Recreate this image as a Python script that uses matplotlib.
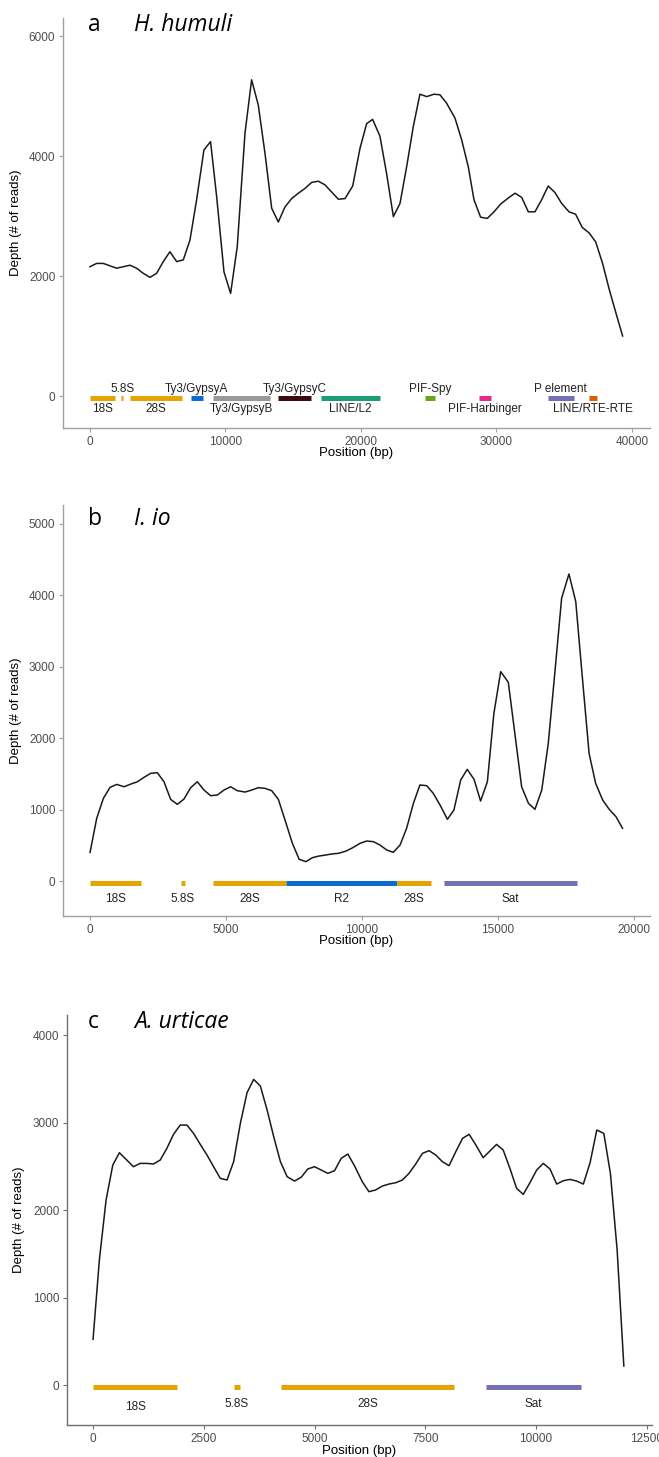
import matplotlib.pyplot as plt

# ---- coverage profiles ----
humuli_pos = [0, 490, 980, 1970, 2950, 3440, 3930, 4430, 4920, 5410, 5900, 6400, 6890, 7380, 7870,
              8410, 8900, 9350, 9890, 10380, 10870, 11440, 11930, 12420, 12920, 13410, 13900, 14390,
              14880, 15380, 15870, 16360, 16850, 17340, 17710, 18330, 18820, 19390, 19930, 20420,
              20860, 21400, 21890, 22390, 22880, 23370, 23860, 24350, 24850, 25390, 25830, 26320,
              26940, 27430, 27920, 28340, 28830, 29320, 29820, 30310, 30870, 31370, 31860, 32350,
              32840, 33330, 33820, 34320, 34810, 35350, 35840, 36330, 36830, 37320, 37830, 38330,
              38820, 39310]
humuli_depth = [2155, 2210, 2210, 2130, 2180, 2130, 2045, 1978, 2045, 2240, 2405, 2240, 2270, 2600,
                3270, 4100, 4240, 3320, 2070, 1710, 2490, 4380, 5270, 4850, 4040, 3130, 2900, 3150,
                3290, 3380, 3460, 3560, 3580, 3520, 3430, 3280, 3290, 3500, 4130, 4540, 4610, 4330,
                3710, 2990, 3210, 3820, 4490, 5030, 4990, 5030, 5020, 4880, 4630, 4270, 3820, 3270,
                2980, 2960, 3070, 3200, 3300, 3380, 3310, 3070, 3070, 3270, 3500, 3390, 3210, 3070,
                3030, 2810, 2720, 2570, 2210, 1770, 1380, 1000]

io_pos = [0, 245, 490, 735, 980, 1250, 1495, 1740, 1985, 2230, 2475, 2720, 2965, 3210, 3455, 3700,
          3945, 4190, 4435, 4680, 4925, 5170, 5415, 5700, 5945, 6190, 6430, 6680, 6925, 7170, 7440,
          7690, 7935, 8180, 8420, 8665, 8910, 9140, 9420, 9660, 9930, 10170, 10420, 10660, 10910,
          11150, 11400, 11640, 11890, 12130, 12380, 12620, 12870, 13140, 13380, 13630, 13870,
          14120, 14360, 14610, 14850, 15100, 15380, 15620, 15870, 16120, 16360, 16610, 16850,
          17100, 17340, 17610, 17860, 18100, 18350, 18590, 18850, 19090, 19340, 19580]
io_depth = [400, 877, 1157, 1311, 1353, 1320, 1357, 1390, 1452, 1508, 1517, 1390, 1143, 1074, 1148,
            1307, 1390, 1274, 1195, 1204, 1274, 1320, 1265, 1246, 1274, 1307, 1298, 1265, 1143, 854,
            528, 304, 271, 327, 350, 364, 380, 388, 420, 467, 528, 560, 551, 504, 434, 402, 504, 738,
            1088, 1345, 1335, 1228, 1064, 864, 994, 1415, 1564, 1424, 1120, 1390, 2348, 2932, 2783,
            2068, 1320, 1088, 1004, 1274, 1929, 2955, 3960, 4300, 3913, 2862, 1789, 1368, 1134,
            1004, 901, 738]

urt_pos = [0, 143, 294, 446, 595, 762, 912, 1063, 1215, 1364, 1516, 1667, 1817, 1968, 2120, 2269,
           2421, 2572, 2722, 2873, 3025, 3174, 3326, 3477, 3627, 3778, 3930, 4079, 4231, 4382, 4548,
           4699, 4848, 5000, 5152, 5301, 5452, 5604, 5753, 5905, 6079, 6228, 6380, 6532, 6681, 6833,
           6984, 7133, 7285, 7437, 7586, 7738, 7889, 8038, 8190, 8342, 8491, 8643, 8808, 8959, 9111,
           9260, 9412, 9563, 9713, 9864, 10016, 10165, 10317, 10468, 10618, 10769, 10920, 11070,
           11222, 11373, 11532, 11681, 11833, 11984]
urt_depth = [522, 1430, 2114, 2514, 2655, 2571, 2495, 2533, 2533, 2526, 2571, 2705, 2865, 2971, 2971,
             2876, 2750, 2629, 2495, 2362, 2343, 2552, 2990, 3341, 3493, 3417, 3143, 2838, 2552, 2381,
             2331, 2374, 2469, 2495, 2457, 2419, 2449, 2591, 2640, 2503, 2324, 2210, 2229, 2274, 2297,
             2312, 2343, 2419, 2526, 2648, 2678, 2629, 2552, 2507, 2667, 2819, 2865, 2743, 2598, 2674,
             2750, 2686, 2476, 2248, 2179, 2312, 2457, 2533, 2469, 2297, 2335, 2350, 2331, 2297, 2541,
             2914, 2876, 2419, 1543, 217]

# ---- annotated features (name, start, end) ----
humuli_feat = ['18S', '5.8S', '28S', 'Ty3/GypsyA', 'Ty3/GypsyB', 'Ty3/GypsyC', 'LINE/L2',
               'PIF-Spy', 'PIF-Harbinger', 'P element', 'LINE/RTE-RTE']
humuli_start = [0, 2300, 2940, 7420, 9060, 13850, 17040, 24710, 28740, 33790, 36830]
humuli_end = [1870, 2440, 6800, 8360, 13290, 16340, 21410, 25470, 29590, 35710, 37390]

io_feat = ['18S', '5.8S', '28S', 'R2', '28S', 'Sat']
io_start = [0, 3340, 4510, 7220, 11300, 13010]
io_end = [1877, 3480, 7220, 11300, 12530, 17900]

urt_feat = ['18S', '5.8S', '28S', 'Sat']
urt_start = [0, 3173, 4242, 8875]
urt_end = [1895, 3329, 8154, 11022]

# colours per feature
feat_colors = {'18S': '#E6A400', '5.8S': '#E6A400', '28S': '#E6A400',
               'Ty3/GypsyA': '#0D6CCF', 'Ty3/GypsyB': '#999999', 'Ty3/GypsyC': '#3B0A0E',
               'LINE/L2': '#1B9E77', 'PIF-Spy': '#66A61E', 'PIF-Harbinger': '#E7298A',
               'P element': '#7570B3', 'LINE/RTE-RTE': '#D95F02',
               'R2': '#0D6CCF', 'Sat': '#7570B3'}

W, H = 659, 1457
fig = plt.figure(figsize=(W / 100, H / 100), dpi=100)
plt.rcParams['font.family'] = ['Liberation Sans', 'DejaVu Sans']


def px_axes(left, top, right, bottom):
    return fig.add_axes([left / W, 1 - bottom / H, (right - left) / W, (bottom - top) / H])


def style(ax, spine_col, xticks, yticks, xlim, ylim):
    for s in ['top', 'right']:
        ax.spines[s].set_visible(False)
    for s in ['left', 'bottom']:
        ax.spines[s].set_color(spine_col)
        ax.spines[s].set_linewidth(1.0)
    ax.tick_params(colors=spine_col, length=3, width=0.8, pad=2.5, labelsize=8.5,
                   labelcolor='#4D4D4D')
    ax.set_xticks(xticks)
    ax.set_yticks(yticks)
    ax.set_xlim(xlim)
    ax.set_ylim(ylim)
    ax.set_xlabel('Position (bp)', fontsize=9.5)
    ax.set_ylabel('Depth (# of reads)', fontsize=9.5)
    ax.xaxis.label.set_va('center')


def draw_feats(ax, names, starts, ends, bar_y, lab_y, fs=8.5):
    for i, name in enumerate(names):
        ax.hlines(bar_y, starts[i], ends[i], colors=feat_colors[name], linewidth=3.6,
                  capstyle='butt')
        ax.text((starts[i] + ends[i]) / 2, lab_y[i], name, ha='center', va='center',
                fontsize=fs, color='#222222')


# ---- panel a ----
ax1 = px_axes(63, 18, 650, 428)
ax1.plot(humuli_pos, humuli_depth, color='#1a1a1a', linewidth=1.1)
style(ax1, '#A0A0A0', range(0, 40001, 10000), range(0, 6001, 2000), (-1990, 41330), (-533, 6300))
side_a = [-1, 1, -1, 1, -1, 1, -1, 1, -1, 1, -1]
draw_feats(ax1, humuli_feat, humuli_start, humuli_end, -38,
           [117 if s > 0 else -222 for s in side_a])
ax1.yaxis.set_label_coords(-0.07, 0.5)
ax1.xaxis.set_label_coords(0.5, -0.061)

# ---- panel b ----
ax2 = px_axes(63, 505, 650, 916)
ax2.plot(io_pos, io_depth, color='#1a1a1a', linewidth=1.1)
style(ax2, '#A0A0A0', range(0, 20001, 5000), range(0, 5001, 1000), (-994, 20590), (-490, 5266))
draw_feats(ax2, io_feat, io_start, io_end, -33, [-252] * len(io_feat))
ax2.yaxis.set_label_coords(-0.07, 0.5)
ax2.xaxis.set_label_coords(0.5, -0.061)

# ---- panel c ----
ax3 = px_axes(67, 1015, 652, 1425)
ax3.plot(urt_pos, urt_depth, color='#1a1a1a', linewidth=1.1)
style(ax3, '#707070', range(0, 12501, 2500), range(0, 4001, 1000), (-588, 12620), (-457, 4229))
draw_feats(ax3, urt_feat, urt_start, urt_end, -19, [-250, -215, -215, -215])
ax3.yaxis.set_label_coords(-0.072, 0.5)
ax3.xaxis.set_label_coords(0.5, -0.063)

# ---- panel letters and species names (baseline positions in px) ----
titles = [('a', 'H. humuli', 31), ('b', 'I. io', 525), ('c', 'A. urticae', 1028)]
for letter, species, ypx in titles:
    fig.text(88 / W, 1 - ypx / H, letter, fontsize=16.5, family='Open Sans', va='baseline')
    fig.text(134 / W, 1 - ypx / H, species, fontsize=16.5, family='Open Sans', style='italic',
             va='baseline')

plt.savefig('out.png', dpi=100)
